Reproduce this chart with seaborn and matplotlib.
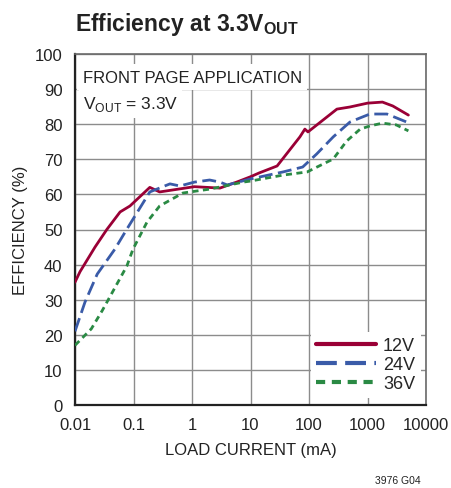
import numpy as np
import pandas as pd
import matplotlib
matplotlib.use("Agg")
import matplotlib.pyplot as plt
import seaborn as sns

# ---- data ----
x12 = [0.01, 0.0122, 0.022, 0.035, 0.059, 0.087, 0.19, 0.28, 1.1, 3.0, 5.8, 9.9, 14, 28.5, 70, 85, 96, 300, 500, 1000, 1800, 2700, 5000]
y12 = [35.0, 38.0, 45.0, 50.0, 55.0, 56.7, 62.0, 60.7, 62.2, 61.8, 63.5, 65.0, 66.1, 68.1, 76.4, 78.6, 77.8, 84.3, 84.9, 86.0, 86.3, 85.2, 82.6]

x24 = [0.01, 0.0148, 0.024, 0.048, 0.077, 0.19, 0.42, 0.62, 1.1, 2.0, 3.0, 4.0, 10, 36, 78, 135, 260, 500, 750, 1100, 2150, 4700]
y24 = [21.0, 29.3, 37.3, 44.4, 50.1, 60.7, 63.0, 62.4, 63.5, 64.1, 63.5, 62.7, 64.4, 66.4, 67.8, 71.5, 76.4, 80.6, 81.8, 82.9, 82.9, 80.6]

x36 = [0.01, 0.019, 0.029, 0.04, 0.077, 0.098, 0.17, 0.28, 0.70, 2.0, 7.5, 10, 36, 93, 260, 440, 750, 1100, 1800, 3100, 5000]
y36 = [17.0, 21.7, 26.8, 31.0, 39.6, 44.4, 52.1, 56.7, 60.4, 61.5, 63.5, 63.8, 65.5, 66.4, 70.1, 75.2, 78.6, 79.5, 80.3, 79.8, 78.1]

series_names = ["12V", "24V", "36V"]
x_ticks = [0.01, 0.1, 1, 10, 100, 1000, 10000]
x_tick_labels = ["0.01", "0.1", "1", "10", "100", "1000", "10000"]
y_ticks = list(range(0, 101, 10))

df = pd.concat([
    pd.DataFrame({"I": x12, "E": y12, "V": series_names[0]}),
    pd.DataFrame({"I": x24, "E": y24, "V": series_names[1]}),
    pd.DataFrame({"I": x36, "E": y36, "V": series_names[2]}),
])

sns.set_style("white")
FONT = ["Liberation Sans", "DejaVu Sans"]
plt.rcParams["font.family"] = FONT
plt.rcParams["mathtext.fontset"] = "custom"
plt.rcParams["mathtext.rm"] = "Liberation Sans"
plt.rcParams["mathtext.bf"] = "Liberation Sans:bold"

fig = plt.figure(figsize=(4.51, 4.89), dpi=100)
ax = fig.add_axes([75/451, 1-406/489, (426-75)/451, (406-55)/489])

palette = {"12V": "#9a0036", "24V": "#3a5ba8", "36V": "#2a8a44"}
dashes = {"12V": "", "24V": (5, 2), "36V": (2.2, 1.6)}
sns.lineplot(data=df, x="I", y="E", hue="V", style="V", palette=palette,
             dashes=dashes, linewidth=2.0, ax=ax, estimator=None, sort=False, zorder=3)

ax.set_xscale("log")
ax.set_xlim(0.01, 10000)
ax.set_ylim(0, 100)
ax.set_xticks(x_ticks)
ax.set_xticklabels(x_tick_labels)
ax.xaxis.set_minor_locator(matplotlib.ticker.NullLocator())
ax.set_yticks(y_ticks)
ax.tick_params(axis="both", labelsize=12, length=0, colors="#222222")
ax.tick_params(axis="x", pad=9)
ax.tick_params(axis="y", pad=9)
ax.grid(True, color="#8c8c8c", linewidth=1.0)
for s in ["top", "right"]:
    ax.spines[s].set_color("#6a6a6a")
    ax.spines[s].set_linewidth(1.2)
for s in ["left", "bottom"]:
    ax.spines[s].set_color("#222222")
    ax.spines[s].set_linewidth(1.6)

ax.set_xlabel("LOAD CURRENT (mA)", fontsize=12, color="#222222", labelpad=7)
ax.set_ylabel("EFFICIENCY (%)", fontsize=12, color="#222222", labelpad=5)

leg = ax.legend(title=None, loc="lower right", bbox_to_anchor=(0.995, 0.01),
                frameon=True, fontsize=13, handlelength=3.3, handletextpad=0.4,
                labelspacing=0.12, borderpad=0.3, borderaxespad=0.2)
leg.get_frame().set_facecolor("white")
leg.get_frame().set_edgecolor("none")
leg.get_frame().set_alpha(1)
for h in leg.get_lines():
    h.set_linewidth(3)

ax.text(0.022, 0.955, "FRONT PAGE APPLICATION", transform=ax.transAxes, fontsize=12,
        va="top", ha="left", color="#222222", zorder=5,
        bbox=dict(facecolor="white", edgecolor="none", pad=4))
ax.text(0.022, 0.885, r"V$_{\mathrm{OUT}}$ = 3.3V", transform=ax.transAxes, fontsize=12.5,
        va="top", ha="left", color="#222222", zorder=5,
        bbox=dict(facecolor="white", edgecolor="none", pad=3))

fig.text(75/451, 1-24/489, r"Efficiency at 3.3V$_{\mathbf{OUT}}$", fontsize=16.5,
         fontweight="bold", va="center", ha="left", color="#222222")
fig.text(398/451, 1-481/489, "3976 G04", fontsize=7.5, va="center", ha="center", color="#222222")

fig.savefig("out.png", dpi=100)
